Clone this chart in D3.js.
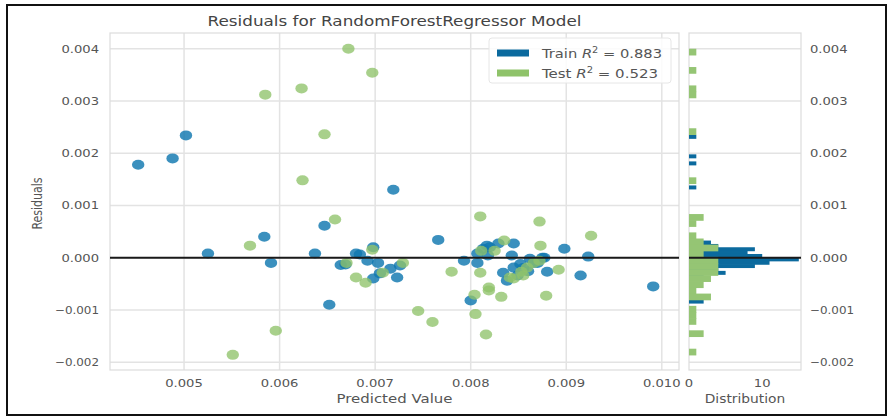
<!DOCTYPE html>
<html>
<head>
<meta charset="utf-8">
<script src="https://cdn.jsdelivr.net/npm/d3@7"></script>
<style>
  body { margin: 0; background: #fff; }
  text { font-family: "DejaVu Sans", sans-serif; }
</style>
</head>
<body>
<div id="chart"></div>
<script>
// predicted value, residual
const trainPoints = [
  [0.00452, 0.00178], [0.00488, 0.00190], [0.00502, 0.00234], [0.00719, 0.00130],
  [0.00525, 0.00008], [0.00584, 0.00040], [0.00591, -0.00010], [0.00637, 0.00008],
  [0.00647, 0.00061], [0.00652, -0.00090], [0.00664, -0.00014], [0.00669, -0.00013],
  [0.00680, 0.00008], [0.00684, 0.00006], [0.00692, -0.00006], [0.00698, 0.00020],
  [0.00703, -0.00010], [0.00698, -0.00040], [0.00705, -0.00030], [0.00716, -0.00021],
  [0.00723, -0.00038], [0.00726, -0.00015], [0.00766, 0.00034], [0.00793, -0.00006],
  [0.00800, -0.00082], [0.00807, 0.00008], [0.00807, -0.00010], [0.00813, 0.00017],
  [0.00817, 0.00023], [0.00818, 0.00004], [0.00820, 0.00020], [0.00829, 0.00027],
  [0.00834, -0.00029], [0.00838, -0.00044], [0.00843, 0.00004], [0.00845, 0.00027],
  [0.00845, -0.00019], [0.00849, -0.00034], [0.00852, -0.00012], [0.00855, -0.00020],
  [0.00860, -0.00026], [0.00862, -0.00002], [0.00866, -0.00010], [0.00870, -0.00010],
  [0.00875, 0.00000], [0.00877, 0.00000], [0.00880, -0.00027], [0.00898, 0.00017],
  [0.00915, -0.00034], [0.00923, 0.00002], [0.00991, -0.00055]
];

const testPoints = [
  [0.00672, 0.00400], [0.00697, 0.00354], [0.00585, 0.00312], [0.00623, 0.00324],
  [0.00647, 0.00236], [0.00624, 0.00148], [0.00658, 0.00073], [0.00569, 0.00023],
  [0.00697, 0.00015], [0.00670, -0.00010], [0.00680, -0.00038], [0.00690, -0.00048],
  [0.00708, -0.00029], [0.00729, -0.00010], [0.00745, -0.00102], [0.00760, -0.00123],
  [0.00596, -0.00140], [0.00551, -0.00186], [0.00810, 0.00079], [0.00872, 0.00069],
  [0.00926, 0.00042], [0.00873, 0.00023], [0.00780, -0.00027], [0.00810, -0.00029],
  [0.00892, -0.00023], [0.00804, -0.00071], [0.00819, -0.00057], [0.00819, -0.00063],
  [0.00832, -0.00075], [0.00879, -0.00073], [0.00805, -0.00108], [0.00816, -0.00147],
  [0.00811, 0.00013], [0.00825, 0.00013], [0.00835, 0.00033], [0.00853, -0.00027],
  [0.00859, -0.00019], [0.00866, -0.00010], [0.00872, -0.00006], [0.00841, -0.00038],
  [0.00855, -0.00034], [0.00845, -0.00040]
];

// histogram bins: bin centre (residual), count
const trainBinWidth = 0.0000646;
const trainHist = [
  [0.002318, 1], [0.001945, 1], [0.001810, 1], [0.001350, 1],
  [0.000295, 3], [0.000230, 4], [0.000167, 9], [0.000102, 8],
  [0.000038, 10], [-0.000027, 15], [-0.000092, 11], [-0.000155, 9],
  [-0.000220, 4], [-0.000285, 5], [-0.000351, 2], [-0.000835, 2]
];
const testBinWidth = 0.0001172;
const testHist = [
  [0.003940, 1], [0.003590, 1], [0.003238, 1], [0.003121, 1],
  [0.002418, 1], [0.001479, 1], [0.000776, 2], [0.000659, 1],
  [0.000425, 1], [0.000308, 2], [0.000191, 4], [0.000073, 2],
  [-0.000044, 4], [-0.000161, 4], [-0.000278, 4], [-0.000395, 3],
  [-0.000512, 2], [-0.000629, 1], [-0.000746, 3], [-0.000981, 1],
  [-0.001098, 1], [-0.001215, 1], [-0.001449, 2], [-0.001801, 1]
];

const xTicks = [0.005, 0.006, 0.007, 0.008, 0.009, 0.010];
const yTicks = [-0.002, -0.001, 0.000, 0.001, 0.002, 0.003, 0.004];
const histTicks = [0, 10];
const trainR2 = "0.883", testR2 = "0.523";

const width = 888, height = 417;
const main = { left: 110, right: 679, top: 33, bottom: 370 };
const hist = { left: 689, right: 801 };
const trainColor = "#0b6a9e", testColor = "#8fc36a";

const svg = d3.select("#chart").append("svg")
  .attr("width", width)
  .attr("height", height);

// the reference text is drawn a bit wide, so stretch it
function stretch(sel, k) {
  sel.each(function () {
    const n = this.getComputedTextLength();
    d3.select(this).attr("textLength", n * k).attr("lengthAdjust", "spacingAndGlyphs");
  });
}
function stretchTick(sel) {
  sel.each(function (d) {
    const s = d3.select(this);
    const txt = s.text();
    const neg = txt.startsWith("\u2212");
    s.text(neg ? txt.slice(1) : txt);
    const n = this.getComputedTextLength();
    s.text(txt);
    s.attr("textLength", n * 1.25 + (neg ? 6.5 : 0)).attr("lengthAdjust", "spacingAndGlyphs");
  });
}

// outer frame
svg.append("rect")
  .attr("x", 7).attr("y", 5)
  .attr("width", 879).attr("height", 410)
  .attr("fill", "#fff")
  .attr("stroke", "#111")
  .attr("stroke-width", 2);

const x = d3.scaleLinear().domain([0.004225, 0.01018]).range([main.left, main.right]);
const y = d3.scaleLinear().domain([-0.00215, 0.0043]).range([main.bottom, main.top]);
const hx = d3.scaleLinear().domain([0, 15.3]).range([hist.left, hist.right]);

const fmt = d3.format(".3f");
const gridColor = "#e3e3e3";

// grids
svg.append("g").selectAll("line")
  .data(xTicks).enter().append("line")
  .attr("x1", d => x(d)).attr("x2", d => x(d))
  .attr("y1", main.top).attr("y2", main.bottom)
  .attr("stroke", gridColor).attr("stroke-width", 1.5);

[[main.left, main.right], [hist.left, hist.right]].forEach(([l, r]) => {
  svg.append("g").selectAll("line")
    .data(yTicks).enter().append("line")
    .attr("x1", l).attr("x2", r)
    .attr("y1", d => y(d)).attr("y2", d => y(d))
    .attr("stroke", gridColor).attr("stroke-width", 1.5);

  svg.append("rect")
    .attr("x", l).attr("y", main.top)
    .attr("width", r - l).attr("height", main.bottom - main.top)
    .attr("fill", "none")
    .attr("stroke", "#dcdcdc")
    .attr("stroke-width", 1.2);
});

// scatter: train first, test on top
svg.append("g").selectAll("ellipse")
  .data(trainPoints).enter().append("ellipse")
  .attr("cx", d => x(d[0])).attr("cy", d => y(d[1]))
  .attr("rx", 6.2).attr("ry", 5)
  .attr("fill", "#1078b0")
  .attr("fill-opacity", 0.82);

svg.append("g").selectAll("ellipse")
  .data(testPoints).enter().append("ellipse")
  .attr("cx", d => x(d[0])).attr("cy", d => y(d[1]))
  .attr("rx", 6.2).attr("ry", 5)
  .attr("fill", testColor)
  .attr("fill-opacity", 0.78);

// histograms (bars overlap a hair so no seams show between bins)
svg.append("g").selectAll("rect")
  .data(trainHist).enter().append("rect")
  .attr("x", hx(0))
  .attr("y", d => y(d[0] + trainBinWidth / 2))
  .attr("width", d => hx(d[1]) - hx(0))
  .attr("height", y(0) - y(trainBinWidth) + 0.6)
  .attr("fill", trainColor);

svg.append("g").selectAll("rect")
  .data(testHist).enter().append("rect")
  .attr("x", hx(0))
  .attr("y", d => y(d[0] + testBinWidth / 2))
  .attr("width", d => hx(d[1]) - hx(0))
  .attr("height", y(0) - y(testBinWidth) + 0.6)
  .attr("fill", "#95c574");

// zero lines
[[main.left, main.right], [hist.left, hist.right]].forEach(([l, r]) => {
  svg.append("line")
    .attr("x1", l).attr("x2", r)
    .attr("y1", y(0)).attr("y2", y(0))
    .attr("stroke", "#1a1a1a").attr("stroke-width", 2);
});

// tick labels
const tickStyle = sel => sel.attr("font-size", 10.5).attr("fill", "#555");
const minus = s => s.replace("-", "\u2212");

svg.append("g").selectAll("text")
  .data(yTicks).enter().append("text")
  .attr("x", 99).attr("y", d => y(d) + 4)
  .attr("text-anchor", "end")
  .call(tickStyle)
  .text(d => minus(fmt(d)))
  .call(stretchTick);

svg.append("g").selectAll("text")
  .data(yTicks).enter().append("text")
  .attr("x", 810).attr("y", d => y(d) + 4)
  .call(tickStyle)
  .text(d => minus(fmt(d)))
  .call(stretchTick);

svg.append("g").selectAll("text")
  .data(xTicks).enter().append("text")
  .attr("x", d => x(d)).attr("y", 387)
  .attr("text-anchor", "middle")
  .call(tickStyle)
  .text(d => fmt(d))
  .call(stretchTick);

svg.append("g").selectAll("text")
  .data(histTicks).enter().append("text")
  .attr("x", d => hx(d)).attr("y", 387)
  .attr("text-anchor", "middle")
  .call(tickStyle)
  .text(d => d)
  .call(stretchTick);

// axis labels and title
svg.append("text")
  .attr("x", (main.left + main.right) / 2).attr("y", 403)
  .attr("text-anchor", "middle")
  .attr("font-size", 11.5).attr("fill", "#555")
  .text("Predicted Value")
  .call(stretch, 1.3);

svg.append("text")
  .attr("x", 745).attr("y", 403)
  .attr("text-anchor", "middle")
  .attr("font-size", 11.5).attr("fill", "#555")
  .text("Distribution")
  .call(stretch, 1.2);

svg.append("text")
  .attr("transform", `translate(42,${(main.top + main.bottom) / 2 + 2}) rotate(-90) scale(1,1.25)`)
  .attr("text-anchor", "middle")
  .attr("font-size", 11).attr("fill", "#555")
  .text("Residuals");

svg.append("text")
  .attr("x", (main.left + main.right) / 2).attr("y", 26)
  .attr("text-anchor", "middle")
  .attr("font-size", 14).attr("fill", "#444")
  .text("Residuals for RandomForestRegressor Model")
  .call(stretch, 1.2);

// legend
const legend = svg.append("g");
legend.append("rect")
  .attr("x", 489).attr("y", 38)
  .attr("width", 182).attr("height", 45)
  .attr("rx", 3)
  .attr("fill", "#fff").attr("fill-opacity", 0.85)
  .attr("stroke", "#e6e6e6");

[["Train", trainR2, trainColor, 120], ["Test", testR2, testColor, 116]].forEach(([name, r2, c, w], i) => {
  const cy = 53 + i * 20;
  legend.append("rect")
    .attr("x", 497).attr("y", cy - 3.5)
    .attr("width", 32).attr("height", 7)
    .attr("fill", c);
  const t = legend.append("text")
    .attr("x", 542).attr("y", cy + 4.5)
    .attr("font-size", 12).attr("fill", "#555")
    .attr("textLength", w).attr("lengthAdjust", "spacingAndGlyphs");
  t.append("tspan").text(name + " ");
  t.append("tspan").attr("font-style", "italic").text("R");
  t.append("tspan").attr("dy", -5).attr("font-size", 8).text("2");
  t.append("tspan").attr("dy", 5).text(" = " + r2);
});
</script>
</body>
</html>
